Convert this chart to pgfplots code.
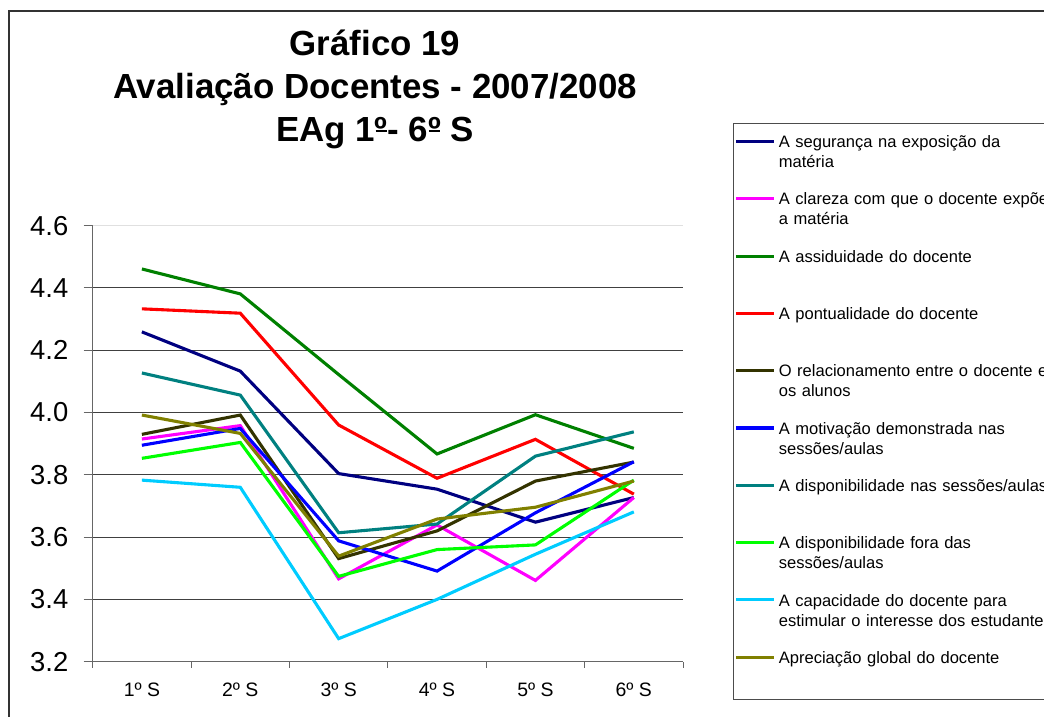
\documentclass[border=0pt]{standalone}
\usepackage{pgfplots}
\pgfplotsset{compat=1.18}
\usepackage{pgfplotstable}
\usepackage{fontspec}
\setmainfont{Liberation Sans}
\definecolor{cNavy}{RGB}{0,0,128}
\definecolor{cMag}{RGB}{255,0,255}
\definecolor{cGreen}{RGB}{0,128,0}
\definecolor{cRed}{RGB}{255,0,0}
\definecolor{cDark}{RGB}{51,51,0}
\definecolor{cBlue}{RGB}{0,0,255}
\definecolor{cTeal}{RGB}{0,128,128}
\definecolor{cLime}{RGB}{0,255,0}
\definecolor{cCyan}{RGB}{0,204,255}
\definecolor{cOlive}{RGB}{128,128,0}
\pgfplotstableread{
x seg cla ass pon rel mot dna dfo cap apr
0 4.259 3.915 4.461 4.333 3.930 3.895 4.127 3.853 3.783 3.992
1 4.133 3.958 4.381 4.319 3.992 3.949 4.056 3.904 3.760 3.933
2 3.804 3.466 4.122 3.960 3.531 3.588 3.614 3.474 3.274 3.539
3 3.754 3.639 3.867 3.789 3.620 3.491 3.642 3.560 3.400 3.658
4 3.648 3.461 3.993 3.914 3.780 3.678 3.860 3.575 3.545 3.696
5 3.727 3.727 3.885 3.738 3.841 3.842 3.938 3.783 3.681 3.780
}\data
\tikzset{ser/.style={line width=3.1bp}}
\newcommand\uo{\makebox[0pt][l]{\hspace{0.02em}\rule[0.30em]{0.33em}{0.055em}}º}
\begin{document}
\begin{tikzpicture}[x=1bp,y=1bp]
\useasboundingbox (0,0) rectangle (1044,717);
\draw[black!80, line width=1.3bp] (9,-10) -- (9,706) -- (1060,706);
\node[font=\fontsize{35}{43}\bfseries\selectfont, anchor=base, inner sep=0pt] at (375,661) {Gráfico 19};
\node[font=\fontsize{35}{43}\bfseries\selectfont, anchor=base, inner sep=0pt] at (375,618) {Avaliação Docentes - 2007/2008};
\node[font=\fontsize{35}{43}\bfseries\selectfont, anchor=base, inner sep=0pt] at (375,575) {EAg 1\uo- 6\uo{} S};
\begin{axis}[
  at={(92.7bp,55.3bp)}, anchor=south west,
  width=590.3bp, height=436bp, scale only axis,
  xmin=-0.5, xmax=5.5, ymin=3.2, ymax=4.6,
  axis x line*=bottom, axis y line*=left,
  axis line style={-, black!60, line width=1bp},
  tick align=outside, xtick pos=left, ytick pos=left,
  xtick={-0.5,0.5,1.5,2.5,3.5,4.5,5.5},
  x tick label as interval,
  xticklabels={1º S,2º S,3º S,4º S,5º S,6º S},
  ytick={3.2,3.4,3.6,3.8,4.0,4.2,4.4,4.6},
  yticklabels={3.2,3.4,3.6,3.8,4.0,4.2,4.4,4.6},
  /pgf/number format/assume math mode=true,
  xtick style={black!60, line width=1bp, /pgfplots/major tick length=6bp},
  ytick style={black!60, line width=1bp, /pgfplots/major tick length=9bp},
  yticklabel style={font=\fontsize{27.5}{31}\selectfont, anchor=east, inner sep=0pt, xshift=-20bp},
  xticklabel style={font=\fontsize{19.5}{23}\selectfont, anchor=base, inner sep=0pt, yshift=-31bp},
  ymajorgrids, grid style={black!75, line width=1bp},
  legend style={at={(1.0839,1.2356)}, anchor=north west, draw=black!70, line width=1bp,
    inner xsep=1.5bp, inner ysep=10.7bp, row sep=17.9bp, column sep=3.2bp,
    cells={anchor=north west},
    nodes={inner sep=0pt, text width=280bp, align=left, text height=13bp, text depth=25.9bp,
      font=\fontsize{16.6}{20}\selectfont}},
  legend image code/.code={\draw[#1] (0bp,-7.3bp) -- (38bp,-7.3bp);},
]
\draw[black!12, line width=1.5bp] (rel axis cs:0,1) -- (rel axis cs:1,1);
\addplot[ser, cNavy, mark=none] table[x=x,y=seg]{\data};
\addlegendentry{A segurança na exposição da\\matéria}
\addplot[ser, cMag, mark=none] table[x=x,y=cla]{\data};
\addlegendentry{A clareza com que o docente expõe\\a matéria}
\addplot[ser, cGreen, mark=none] table[x=x,y=ass]{\data};
\addlegendentry{A assiduidade do docente}
\addplot[ser, cRed, mark=none] table[x=x,y=pon]{\data};
\addlegendentry{A pontualidade do docente}
\addplot[ser, cDark, mark=none] table[x=x,y=rel]{\data};
\addlegendentry{O relacionamento entre o docente e\\os alunos}
\addplot[ser, cBlue, mark=none] table[x=x,y=mot]{\data};
\addlegendentry{A motivação demonstrada nas\\sessões/aulas}
\addplot[ser, cTeal, mark=none] table[x=x,y=dna]{\data};
\addlegendentry{A disponibilidade nas sessões/aulas}
\addplot[ser, cLime, mark=none] table[x=x,y=dfo]{\data};
\addlegendentry{A disponibilidade fora das\\sessões/aulas}
\addplot[ser, cCyan, mark=none] table[x=x,y=cap]{\data};
\addlegendentry{A capacidade do docente para\\estimular o interesse dos estudantes}
\addplot[ser, cOlive, mark=none] table[x=x,y=apr]{\data};
\addlegendentry{Apreciação global do docente}
\end{axis}
\end{tikzpicture}
\end{document}
